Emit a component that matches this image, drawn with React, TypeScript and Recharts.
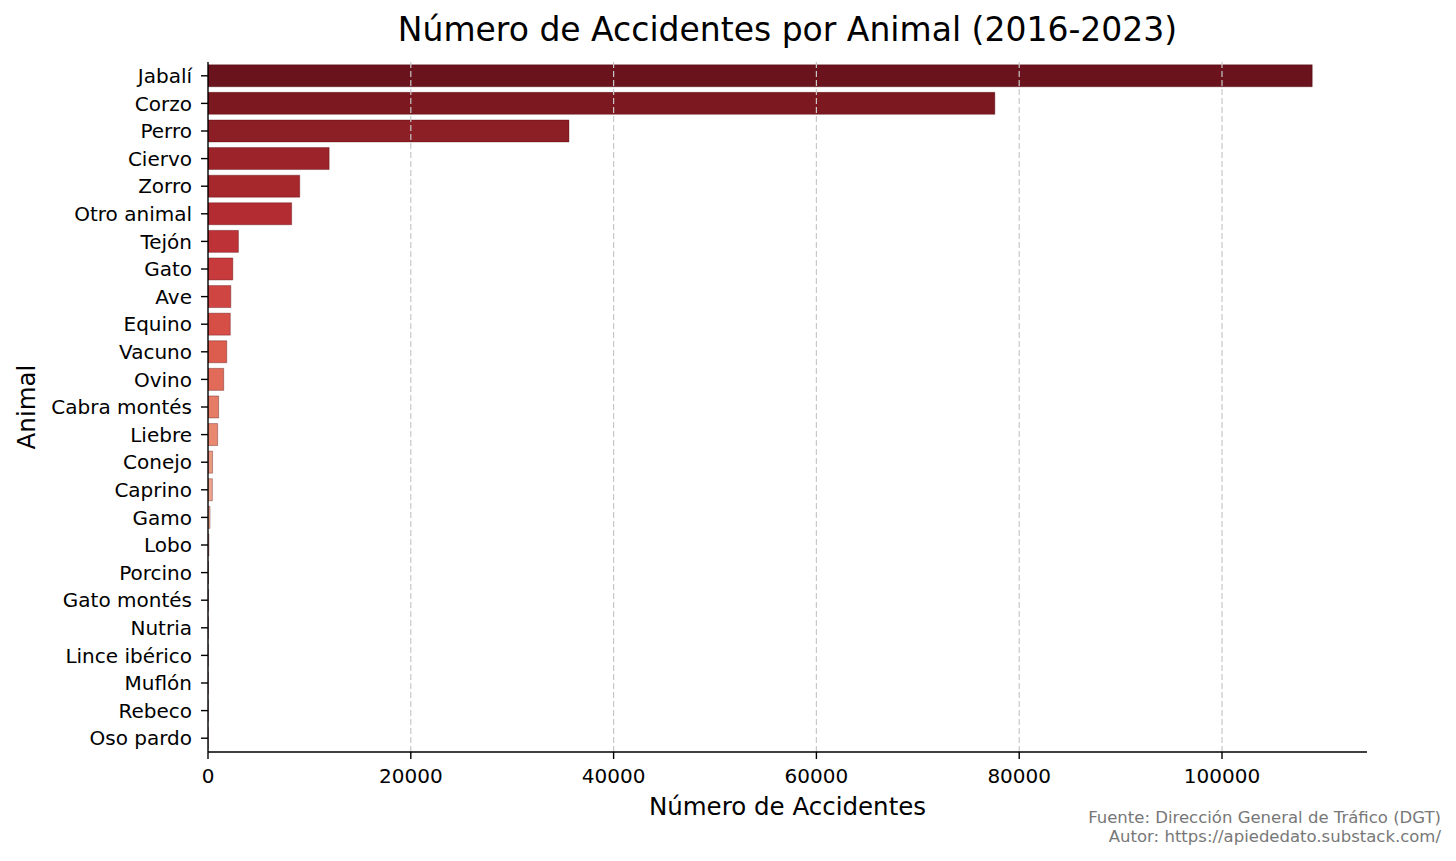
import { BarChart, Bar, Cell, XAxis, YAxis, ReferenceLine } from 'recharts';

const animals = [
  'Jabalí', 'Corzo', 'Perro', 'Ciervo', 'Zorro', 'Otro animal', 'Tejón', 'Gato',
  'Ave', 'Equino', 'Vacuno', 'Ovino', 'Cabra montés', 'Liebre', 'Conejo', 'Caprino',
  'Gamo', 'Lobo', 'Porcino', 'Gato montés', 'Nutria', 'Lince ibérico', 'Muflón',
  'Rebeco', 'Oso pardo',
];

const accidents = [
  108900, 77600, 35600, 11950, 9050, 8250, 3000, 2450,
  2250, 2200, 1850, 1550, 1050, 950, 450, 430,
  200, 90, 50, 35, 25, 20, 15, 10, 3,
];

const xTicks = [0, 20000, 40000, 60000, 80000, 100000];

// tonos de Reds_r, del más oscuro al más claro
const palette = [
  '#6a131d', '#7c1920', '#8c1e25', '#9b2329', '#a6282d', '#b22c31', '#bd3236', '#c73b3c',
  '#cf4541', '#d64f47', '#dc5c4e', '#e16b58', '#e57c66', '#e8886f', '#eb9880', '#eea58e',
  '#f0b19c', '#f2bda9', '#f4c8b8', '#f6d2c5', '#f8dcd2', '#f9e4dc', '#fbebe6', '#fcf1ed',
  '#fdf6f3',
];

const data = animals.map((name, i) => ({ name, value: accidents[i] }));

const FONT = '"DejaVu Sans", sans-serif';

export default function App() {
  return (
    <div
      style={{
        position: 'absolute',
        left: 0,
        top: 0,
        width: 1456,
        height: 861,
        background: '#fff',
        fontFamily: FONT,
      }}
    >
      <BarChart
        width={1456}
        height={861}
        data={data}
        layout="vertical"
        margin={{ top: 62, right: 89, bottom: 69, left: 8 }}
        barCategoryGap="10%"
      >
        <XAxis
          type="number"
          domain={[0, 114300]}
          ticks={xTicks}
          allowDataOverflow
          height={40}
          tickSize={7}
          tickMargin={10}
          stroke="#000"
          strokeWidth={1.4}
          tick={{ fill: '#000', fontSize: 20, fontFamily: FONT }}
        />
        <YAxis
          type="category"
          dataKey="name"
          width={200}
          interval={0}
          tickSize={7}
          tickMargin={9}
          stroke="#000"
          strokeWidth={1.4}
          tick={{ fill: '#000', fontSize: 20, fontFamily: FONT }}
        />
        <Bar
          dataKey="value"
          isAnimationActive={false}
          stroke="#4a0008"
          strokeOpacity={0.35}
          strokeWidth={1}
        >
          {data.map((_, i) => (
            <Cell key={`cell-${i}`} fill={palette[i]} />
          ))}
        </Bar>
        {xTicks.slice(1).map((t) => (
          <ReferenceLine
            key={t}
            x={t}
            stroke="#c8c8c8"
            strokeDasharray="6 3"
            strokeWidth={1.2}
          />
        ))}
      </BarChart>

      <div
        style={{
          position: 'absolute',
          left: 208,
          width: 1159,
          top: 10,
          textAlign: 'center',
          fontSize: 33,
          lineHeight: '40px',
          color: '#000',
        }}
      >
        Número de Accidentes por Animal (2016-2023)
      </div>

      <div
        style={{
          position: 'absolute',
          left: 208,
          width: 1159,
          top: 792,
          textAlign: 'center',
          fontSize: 24.5,
          lineHeight: '30px',
          color: '#000',
        }}
      >
        Número de Accidentes
      </div>

      <div
        style={{
          position: 'absolute',
          left: 27,
          top: 407,
          transform: 'translate(-50%, -50%) rotate(-90deg)',
          fontSize: 24.5,
          lineHeight: '30px',
          whiteSpace: 'nowrap',
          color: '#000',
        }}
      >
        Animal
      </div>

      <div
        style={{
          position: 'absolute',
          right: 15,
          top: 808,
          textAlign: 'right',
          fontSize: 16.5,
          lineHeight: '19px',
          color: '#777',
        }}
      >
        Fuente: Dirección General de Tráfico (DGT)
        <br />
        Autor: https://apiededato.substack.com/
      </div>
    </div>
  );
}
